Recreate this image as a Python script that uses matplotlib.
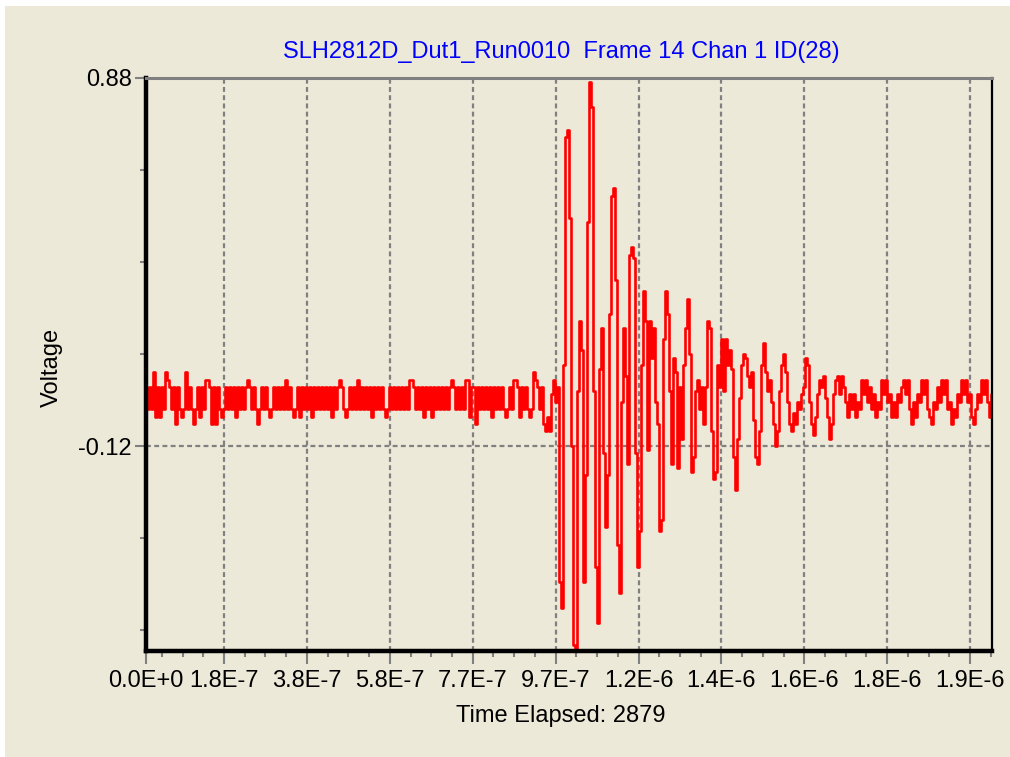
import numpy as np
import matplotlib
matplotlib.use('Agg')
import matplotlib.pyplot as plt
from matplotlib.patches import Rectangle

# trace values in hundredths of a volt, one reading every 2 px of the original plot
noise_cv = [4, -2, 4, -2, 8, -4, 4, -4, 4, -2,
            8, 6, 4, -2, 4, -6, 4, -2, -4, -2,
            8, -2, 4, -2, -6, -2, 4, -4, 4, -2,
            6, 6, 4, -6, 4, -6, 4, -2, -4, -2,
            4, -2, 4, -2, 4, -4, 4, -2, 4, -2,
            4, 6, 4, -2, 4, -2, -6, -2, 4, -2,
            4, -2, -4, -2, 4, -2, 4, -2, 4, -2,
            6, -2, 4, -2, -4, -2, 4, -4, 4, -2,
            4, -2, 4, -4, 4, -2, 4, -2, 4, -2,
            4, -2, 4, -4, 4, -2, 4, 6, 4, -2,
            -4, -2, 4, -2, 4, -2, 6, -2, 4, -2,
            4, -2, 4, -4, 4, -2, 4, -2, 4, -2,
            -4, -2, 4, -2, 4, -2, 4, -2, 4, -2,
            4, -2, 6, 6, 4, -2, 4, -2, 4, -4,
            4, -2, 4, -4, 4, -2, 4, -2, 4, -2,
            4, -2, 4, 6, 4, -2, 4, -2, 4, -2,
            6, 6, -4, 4, 4, -6, 4, -2, 4, -2,
            4, -2, 4, -4, 4, -2, 4, -2, 4, -2,
            -4, -2, 4, -2, 6, 6, 4, -4, 4, -2,
            4, -2, -4, -2, 8, 6, 4, -2]
burst_cv = [4, -6, -8, -4, -8, 2, 6, 0, 4, -49,
            -56, 10, 72, 74, 50, -12, -66, -68, 3, 22,
            14, -49, -20, 49, 87, 80, 3, -45, -60, 9,
            20, -14, -34, -20, 24, 56, 58, 33, -39, -52,
            0, 20, 7, -17, 40, 42, 39, -14, -45, -35,
            10, 30, 22, -13, 22, 12, 20, 0, -6, -35,
            -32, 17, 30, 24, 3, -17, 12, 8, -18, 4,
            -10, 10, 20, 28, 13, -19, -15, 3, 6, -2,
            4, -6, 4, 22, 20, -8, -21, -19, 10, 4,
            17, 3, 17, 10, 14, 9, -15, -24, -10, 1,
            10, 13, 12, 7, 4, 8, -5, -15, -17, -8,
            10, 16, 8, 3, 6, 0, -6, -12, -8, 3,
            10, 13, 8, 0, -6, -8, -3, -6, 0, -2,
            2, 4, 12, 10, 0, -6, -9, -4, 2, 6,
            4, 7, 1, -4, -10, -6, 2, 6, 7, 2,
            7, 4, 0, -4]
tail_cv = [2, -2, 2, -4, 0, -2, 6, 2, 6, 0,
           4, -2, 2, -4, 0, -2, 6, 2, 6, 0,
           2, -4, 0, -4, 2, 0, 4, 6, 2, 6,
           -2, -6, 0, -4, 2, 0, 6, 2, 6, -2,
           -4, -6, 0, -2, 4, 0, 6, 2, 6, -2,
           0, -6, -2, -4, 2, 0, 6, 2, 6, 0,
           2, -4, -6, -2, 2, 0, 6, 2, 6, 0,
           -4, 2]

x_labels = ['0.0E+0', '1.8E-7', '3.8E-7', '5.8E-7', '7.7E-7', '9.7E-7',
            '1.2E-6', '1.4E-6', '1.6E-6', '1.8E-6', '1.9E-6']
y_major = [0.88, -0.12]
y_labels = ['0.88', '-0.12']
y_minor = [0.63, 0.38, 0.13, -0.37, -0.62]

title = 'SLH2812D_Dut1_Run0010  Frame 14 Chan 1 ID(28)'
xlabel = 'Time Elapsed: 2879'
ylabel = 'Voltage'

volts = np.array(noise_cv + burst_cv + tail_cv) / 100.0
sec_per_px = 2.35e-9
t = np.arange(len(volts)) * 2 * sec_per_px
xmax = 846 * sec_per_px
first_tick = 78 * sec_per_px
tick_step = 82.9 * sec_per_px
x_major = [0.0] + [first_tick + k * tick_step for k in range(len(x_labels) - 1)]
x_minor = [first_tick + j * tick_step / 4 for j in range(-3, 45) if j % 4 != 0]
x_minor = [v for v in x_minor if 0 < v <= xmax]

bg = '#ECE9D8'
gray = '#808080'
plt.rcParams['font.family'] = ['Liberation Sans', 'DejaVu Sans']

W, H = 1010, 757
fig = plt.figure(figsize=(W / 100, H / 100), dpi=100)
fig.patch.set_facecolor('white')
fig.patches.append(Rectangle((5 / W, 0), 1, 1 - 6 / H, transform=fig.transFigure,
                             facecolor=bg, edgecolor='none', zorder=-5))

ax = fig.add_axes([146 / W, 1 - 651 / H, (992 - 146) / W, (651 - 78) / H])
ax.set_facecolor(bg)
ax.plot(t, volts, color='#FF0000', lw=1.9, drawstyle='steps-mid', zorder=3)

ax.set_xlim(0, xmax)
ax.set_ylim(-0.677, 0.88)
ax.set_xticks(x_major)
ax.set_xticklabels(x_labels, fontsize=17)
ax.set_xticks(x_minor, minor=True)
ax.set_yticks(y_major)
ax.set_yticklabels(y_labels, fontsize=17)
ax.set_yticks(y_minor, minor=True)

ax.tick_params(axis='x', which='major', length=9, width=1.5, color=gray, pad=5)
ax.tick_params(axis='x', which='minor', length=4.5, width=1.5, color=gray)
ax.tick_params(axis='y', which='major', length=8, width=1.5, color=gray, pad=2)
ax.tick_params(axis='y', which='minor', length=4.5, width=1.5, color=gray)

for xv in x_major[1:]:
    ax.axvline(xv, color=gray, lw=1.6, ls=(0, (2.2, 1.5)), zorder=1)
ax.axhline(y_major[1], color=gray, lw=1.6, ls=(0, (2.2, 1.5)), zorder=1)

ax.spines['left'].set_linewidth(3.2)
ax.spines['bottom'].set_linewidth(3.2)
ax.spines['right'].set_linewidth(1.6)
ax.spines['top'].set_color(gray)
ax.spines['top'].set_linewidth(2.2)
ax.axhline(0.88, color='black', lw=1.0, ls=(0, (1, 3)), zorder=4, clip_on=False)
for s in ax.spines.values():
    s.set_zorder(5)

fig.text(561 / W, 1 - 52 / H, title, color='#0000FF', fontsize=17, ha='center', va='center')
fig.text(561 / W, 1 - 716 / H, xlabel, fontsize=17, ha='center', va='center')
fig.text(52 / W, 1 - 367 / H, ylabel, fontsize=17, rotation=90, ha='center', va='center')

fig.savefig('out.png', dpi=100, facecolor=fig.get_facecolor())
